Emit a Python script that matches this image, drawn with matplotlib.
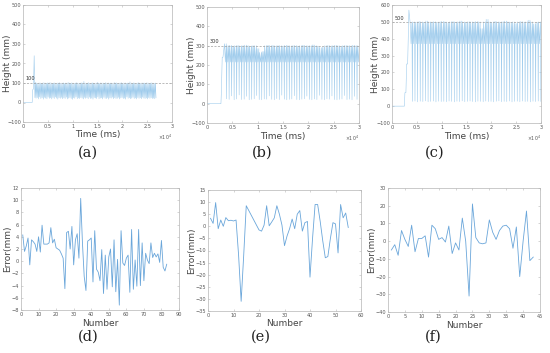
"""
Height tracking signals (a-c) and per-jump error curves (d-f).
"""
import numpy as np
import matplotlib
matplotlib.use("Agg")
import matplotlib.pyplot as plt

# ---- top row: height vs time (ms) ----
time_ticks = [0, 5000, 10000, 15000, 20000, 25000, 30000]
time_tick_labels = ["0", "0.5", "1", "1.5", "2", "2.5", "3"]

# (a) target 100 mm
a_target = 100
a_ramp_t = [0, 1850, 1950, 2100, 2250, 2400]
a_ramp_h = [0, 0, 65, 70, 240, 25]
a_start, a_period = 2500, 244
a_peaks = [104, 100, 99, 101, 100, 98, 100, 102, 100, 99, 101, 100, 103, 100, 98, 100,
           101, 99, 100, 100, 102, 99, 100, 101, 98, 100, 100, 103, 100, 99, 101, 100,
           98, 100, 102, 100, 99, 100, 101, 100, 108, 100, 99, 100, 102, 98, 100, 101,
           100, 99, 100, 104, 100, 98, 101, 100, 100, 99, 102, 100, 101, 99, 100, 100,
           98, 103, 100, 101, 99, 100, 100, 102, 99, 100, 101, 98, 100, 100, 106, 100,
           99, 101, 100, 98, 100, 102, 100, 99, 101, 100, 100, 99, 102, 100, 98, 100,
           101, 100, 99, 100]
a_troughs = [22, 25, 18, 28, 20, 24, 17, 26, 22, 19, 27, 21, 24, 18, 25, 20, 28, 22, 17, 24,
             21, 26, 19, 23, 20, 27, 18, 22, 25, 20, 16, 24, 21, 28, 19, 23, 20, 25, 22, 18,
             26, 21, 24, 19, 27, 20, 22, 17, 25, 23, 20, 28, 19, 22, 24, 18, 26, 21, 20, 25,
             17, 23, 22, 27, 19, 24, 20, 21, 26, 18, 23, 25, 20, 22, 17, 28, 21, 24, 19, 22,
             26, 20, 23, 18, 25, 21, 24, 19, 27, 22, 20, 23, 18, 25, 21, 24, 20, 22, 19, 24]

# (b) target 300 mm
b_target = 300
b_ramp_t = [0, 2750, 2850, 3000, 3150]
b_ramp_h = [0, 0, 70, 240, 240]
b_start, b_period = 3450, 495
b_shoulder = 215
b_peaks = [310, 300, 302, 298, 300, 301, 299, 300, 303, 300, 298, 300, 300, 285, 265,
           270, 300, 302, 300, 301, 299, 300, 300, 298, 302, 300, 299, 300, 301, 298,
           300, 302, 300, 299, 300, 304, 300, 298, 290, 292, 300, 301, 299, 300, 302,
           300, 298, 300, 301, 300, 299, 302, 300, 300]
b_troughs = [25, 22, 40, 20, 24, 45, 21, 23, 38, 20, 22, 25, 42, 21, 20, 24, 23, 40, 22,
             20, 26, 21, 44, 23, 20, 22, 24, 41, 21, 20, 23, 25, 39, 22, 20, 24, 21, 43,
             22, 20, 25, 23, 40, 21, 20, 22, 24, 42, 21, 23, 20, 38, 22, 24]

# (c) target 500 mm
c_target = 500
c_ramp_t = [0, 2500, 2600, 2800, 2950, 3150, 3400]
c_ramp_h = [0, 0, 80, 80, 250, 250, 570]
c_start, c_period = 3650, 528
c_shoulder = 370
c_peaks = [495, 500, 498, 502, 500, 497, 505, 500, 499, 501, 498, 500, 503, 500, 497,
           500, 502, 499, 500, 505, 500, 498, 501, 500, 499, 502, 500, 460, 500, 515,
           500, 498, 503, 500, 499, 501, 505, 500, 498, 500, 490, 500, 502, 499, 500,
           510, 500, 488, 498, 500]
c_troughs = [28, 30, 25, 29, 27, 31, 26, 28, 30, 25, 29, 27, 28, 26, 30, 28, 25, 29, 27,
             31, 26, 28, 30, 27, 25, 29, 28, 26, 30, 27, 28, 25, 29, 31, 26, 28, 27, 30,
             25, 28, 29, 26, 30, 27, 28, 25, 29, 27, 30, 28]

# ---- bottom row: error per jump ----
d_err = [4.3, 1.6, 2.5, 3.8, -0.6, 3.5, 3.2, 2.8, 1.6, 4.0, 1.5, 5.9, 2.8, 2.8, 2.8,
         3.0, 5.5, 3.0, 3.6, 2.2, 2.0, 1.8, 1.2, 0.5, -4.5, 4.7, 4.9, 2.0, 5.7, -0.6,
         3.5, 4.5, 0.5, 10.3, 3.0, -2.5, -4.8, 3.3, 3.5, 3.8, -3.4, 5.0, -1.3, -1.8,
         -3.2, 1.9, -5.3, 1.0, -4.6, 0.7, 2.0, -4.2, 3.5, -5.0, 0.3, -7.2, 5.0, -0.3,
         -0.7, 0.5, 1.0, -5.1, 5.2, -4.6, 0.2, -4.1, 5.2, -4.0, 3.0, -3.2, 1.3, 0.2,
         -0.4, 3.0, 0.6, 1.3, 0.7, 1.2, -0.2, 3.4, -1.0, -1.6, -0.5]
e_err = [3.3, 1.2, 9.8, -1.0, 2.6, 0.0, 3.6, 2.3, 2.5, 2.2, 2.6, -12.0, -31.0, -12.0,
         8.5, 6.5, 4.5, 2.5, 0.5, -1.5, -2.0, 0.5, 8.5, 0.2, 1.8, 3.5, 8.5, 5.0, 0.5,
         -8.0, -4.0, -1.0, 3.0, -1.0, 5.0, 6.5, -2.0, 1.5, 2.0, -21.0, -5.0, 9.0, 9.0,
         2.0, -6.0, -13.0, -12.5, -5.0, 1.5, 1.0, -11.0, 9.0, 3.5, 5.5, -0.5]
f_err = [-5, -2, -8, 6, 1, -3, 9, -6, 1.5, 1.5, 3, -9, 9, 7, 1, 2, -0.5, 8.5, -7, -1,
         -5, 13, 0, -31, 21, 2, -1, -1.5, -1, 12, 5, 1, 6, 8.5, 9, 7, -4, 8, -20, 0,
         17, -11, -9]


def build_signal(ramp_t, ramp_h, t0, period, peaks, troughs, shoulder=None):
    """Join the start-up ramp with one peak/trough pair per cycle."""
    t = list(ramp_t)
    h = list(ramp_h)
    for i, (p, q) in enumerate(zip(peaks, troughs)):
        s = t0 + i * period
        if shoulder is None:
            t += [s, s + 0.5 * period]
            h += [p, q]
        else:
            t += [s, s + 0.35 * period, s + 0.7 * period, s + 0.85 * period]
            h += [p, shoulder, p, q]
    return t, h


def style_axes(ax):
    for sp in ax.spines.values():
        sp.set_color("#b5b5b5")
        sp.set_linewidth(0.5)
    ax.tick_params(direction="in", length=1.5, width=0.4, colors="#b5b5b5",
                   labelcolor="#555555", labelsize=3.6, pad=1.5, top=True, right=True)


W, H = 550, 353
fig = plt.figure(figsize=(W / 100, H / 100), dpi=100)

top_boxes = [(23, 5, 172, 122), (207, 7, 359, 123), (392, 5, 541, 123)]
bot_boxes = [(21, 188, 179, 310), (208, 190, 361, 311), (388, 188, 540, 312)]


def add_box(b):
    x0, y0, x1, y1 = b
    return fig.add_axes([x0 / W, 1 - y1 / H, (x1 - x0) / W, (y1 - y0) / H])


def set_labels(ax, box, xlabel, ylabel, ylab_x):
    """Place axis titles at fixed pixel offsets like the original figure."""
    x0, y0, x1, y1 = box
    ax.set_xlabel(xlabel, fontsize=6.5, color="#444444")
    ax.set_ylabel(ylabel, fontsize=6.5, color="#444444")
    ax.xaxis.set_label_coords(0.5, -13 / (y1 - y0), transform=ax.transAxes)
    ax.yaxis.set_label_coords((ylab_x - x0) / (x1 - x0), 0.5, transform=ax.transAxes)
    ax.xaxis.label.set_va("center")
    ax.yaxis.label.set_va("center")


line_top = "#9ecbec"
line_bot = "#6aa6da"

signals = [
    (a_ramp_t, a_ramp_h, a_start, a_period, a_peaks, a_troughs, None, a_target, 600, 8),
    (b_ramp_t, b_ramp_h, b_start, b_period, b_peaks, b_troughs, b_shoulder, b_target, 600, 191),
    (c_ramp_t, c_ramp_h, c_start, c_period, c_peaks, c_troughs, c_shoulder, c_target, 700, 376),
]
for box, (rt, rh, t0, per, pk, tr, sh, target, ymax, ylx) in zip(top_boxes, signals):
    ax = add_box(box)
    t, h = build_signal(rt, rh, t0, per, pk, tr, sh)
    ax.plot(t, h, color=line_top, lw=0.4)
    ax.axhline(target, color="#a0a0a0", lw=0.5, ls=(0, (3, 2)))
    ax.text(500, target + 8, str(target), fontsize=3.6, color="#333333",
            ha="left", va="bottom")
    ax.set_xlim(0, 30000)
    ax.set_ylim(-100, ymax - 100)
    ax.set_xticks(time_ticks)
    ax.set_xticklabels(time_tick_labels)
    ax.set_yticks(np.arange(-100, ymax - 99, 100))
    set_labels(ax, box, "Time (ms)", "Height (mm)", ylx)
    ax.text(1.0, -0.09, r"$\times10^4$", transform=ax.transAxes, fontsize=3.4,
            color="#555555", ha="right", va="top")
    style_axes(ax)

errors = [
    (d_err, (0, 90), np.arange(0, 91, 10), (-8, 12), np.arange(-8, 13, 2), 8),
    (e_err, (0, 60), np.arange(0, 61, 10), (-35, 15), np.arange(-35, 16, 5), 192),
    (f_err, (0, 45), np.arange(0, 46, 5), (-40, 30), np.arange(-40, 31, 10), 372),
]
for box, (err, xl, xt, yl, yt, ylx) in zip(bot_boxes, errors):
    ax = add_box(box)
    n = np.arange(1, len(err) + 1)
    ax.plot(n, err, color=line_bot, lw=0.6)
    ax.set_xlim(*xl)
    ax.set_ylim(*yl)
    ax.set_xticks(xt)
    ax.set_yticks(yt)
    set_labels(ax, box, "Number", "Error(mm)", ylx)
    style_axes(ax)

# panel letters
for x, y, s in [(88, 153, "(a)"), (262, 153, "(b)"), (435, 153, "(c)"),
                (88, 337, "(d)"), (261, 337, "(e)"), (433, 337, "(f)")]:
    fig.text(x / W, 1 - y / H, s, fontsize=10.5, family="DejaVu Serif",
             ha="center", va="center", color="#222222")

fig.savefig("out.png", dpi=100)
